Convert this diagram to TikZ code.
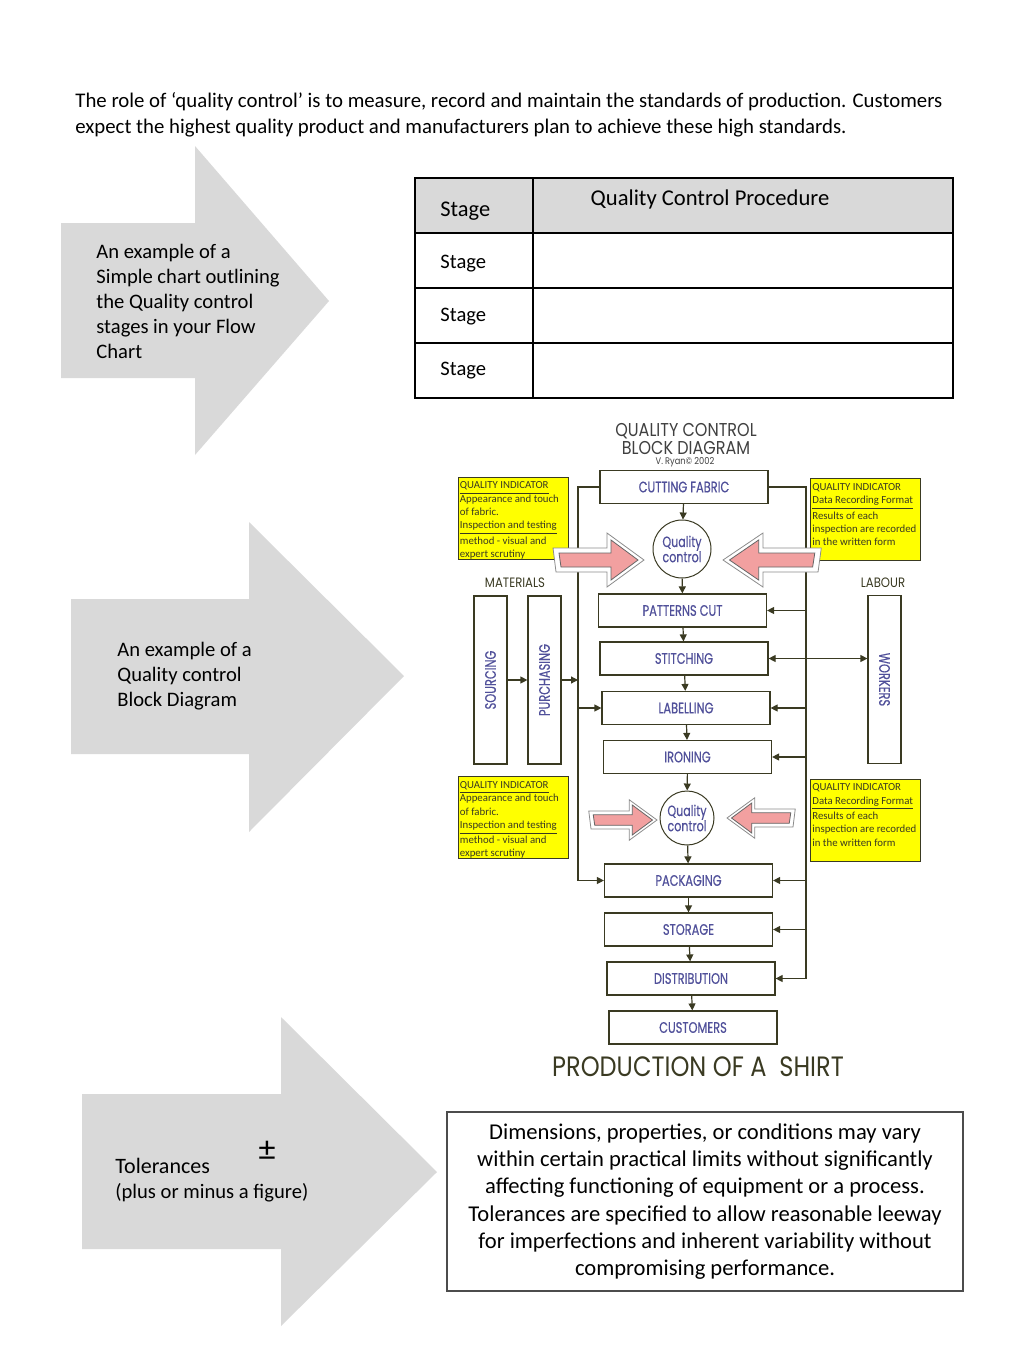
\documentclass[tikz,border=0pt]{standalone}
\usepackage{fontspec}
\setmainfont{Carlito}
\newfontfamily\blockfont{Poppins}[FakeStretch=0.75, FakeBold=0.5]
\newfontfamily\titlefont{Poppins}[FakeStretch=0.86]
\usetikzlibrary{arrows.meta}

\definecolor{arrowgrey}{HTML}{D9D9D9}
\definecolor{labelblue}{HTML}{50509A}
\definecolor{inkolive}{HTML}{3A3A22}
\definecolor{noteyellow}{HTML}{FFFF00}
\definecolor{arrowpink}{HTML}{F2A0A0}

\tikzset{
  pics/pinkarrow/.style={code={
    \draw[draw=black!45, fill=white, line width=0.4pt]
      (0,0) -- (-37,-27) -- (-37,-12) -- (-91,-12) -- (-88,12) -- (-37,12) -- (-37,27) -- cycle;
    \draw[draw=black!60, fill=arrowpink, line width=0.4pt]
      (-6,0) -- (-33,-20) -- (-33,-7) -- (-85,-7) -- (-83,7) -- (-33,7) -- (-33,20) -- cycle;
  }}
}

\begin{document}
\begin{tikzpicture}[x=0.5pt, y=-0.5pt,
    bigarrow/.style={fill=arrowgrey, draw=none},
    slidetext/.style={anchor=base west, align=left, inner sep=0pt,
      font=\fontsize{10.3}{12.5}\selectfont},
    stage/.style={draw=inkolive, line width=0.6pt, fill=white, inner sep=0pt,
      minimum width=84pt, minimum height=16.5pt, text=labelblue,
      font=\blockfont\fontsize{7.6}{8}\selectfont},
    qcircle/.style={circle, draw=inkolive, line width=0.5pt, fill=white, inner sep=0pt,
      align=center, text=labelblue, font=\blockfont\fontsize{7.4}{7.6}\selectfont},
    note/.style={draw=inkolive, fill=noteyellow, line width=0.5pt,
      minimum width=55pt, minimum height=41pt, inner sep=0pt},
    notetext/.style={anchor=north west, align=left, inner sep=0pt,
      font=\fontsize{5.4}{6.65}\selectfont, text=inkolive},
    caption/.style={text=inkolive, inner sep=0pt, font=\titlefont\fontsize{6.8}{8}\selectfont},
    link/.style={draw=inkolive, line width=0.6pt},
    feed/.style={link, -{Triangle[length=3.5pt,width=3.5pt]}},
    twoway/.style={link, {Triangle[length=3.5pt,width=3.5pt]}-{Triangle[length=3.5pt,width=3.5pt]}}]
  \useasboundingbox (0,0) rectangle (1024,1365);

  % intro text (base = last line)
  \node[slidetext, font=\fontsize{10.4}{13}\selectfont] (intro) at (75,133)
    {The role of ‘quality control’ is to measure, record and maintain the standards of production. Customers\\
     expect the highest quality product and manufacturers plan to achieve these high standards.};

  % grey arrows on the left
  \fill[bigarrow] (61,223) -- (195,223) -- (195,146) -- (329,301) -- (195,455) -- (195,378) -- (61,378) -- cycle;
  \fill[bigarrow] (71,599) -- (249,599) -- (249,522) -- (404,676) -- (249,832) -- (249,754) -- (71,754) -- cycle;
  \fill[bigarrow] (82,1094) -- (281,1094) -- (281,1017) -- (437,1172) -- (281,1326) -- (281,1249) -- (82,1249) -- cycle;

  \node[slidetext] (flowtxt) at (96,358)
    {An example of a\\Simple chart outlining\\the Quality control\\stages in your Flow\\Chart};
  \node[slidetext] (blocktxt) at (117,706)
    {An example of a\\Quality control\\Block Diagram};
  \node[slidetext, font=\fontsize{11}{13}\selectfont] (toltxt) at (115,1173) {Tolerances};
  \node[slidetext] (tolsub) at (115,1198) {(plus or minus a figure)};
  \node[inner sep=0pt, anchor=base, font=\fontsize{17}{19}\selectfont] (pm) at (267,1160) {±};

  % stage table
  \fill[arrowgrey] (415,178) rectangle (953,233);
  \draw[line width=1pt] (415,178) rectangle (953,398);
  \draw[line width=1pt] (415,233) -- (953,233) (415,288) -- (953,288) (415,343) -- (953,343) (533,178) -- (533,398);
  \node[slidetext, font=\fontsize{11.2}{13}\selectfont] (stagehead) at (440,216) {Stage};
  \node[inner sep=0pt, anchor=base, font=\fontsize{11.3}{13}\selectfont] (qchead) at (710,205) {Quality Control Procedure};
  \node[slidetext] (stageA) at (440,268) {Stage};
  \node[slidetext] (stageB) at (440,321) {Stage};
  \node[slidetext] (stageC) at (440,375) {Stage};

  % block diagram
  \node[inner sep=0pt, text=black!75, font=\titlefont\fontsize{9.3}{9.3}\selectfont] (titleA) at (686,431) {QUALITY CONTROL};
  \node[inner sep=0pt, text=black!75, font=\titlefont\fontsize{9.3}{9.3}\selectfont] (titleB) at (686,448) {BLOCK DIAGRAM};
  \node[inner sep=0pt, text=black!75, font=\titlefont\fontsize{4.8}{5}\selectfont] (author) at (685,462) {V. Ryan© 2002};
  \node[caption] (materials) at (515,583) {MATERIALS};
  \node[caption] (labour) at (883,583) {LABOUR};

  \node[note] (noteL1) at (513,518) {};
  \node[note] (noteR1) at (865.5,519.5) {};
  \node[note] (noteL2) at (513,817.5) {};
  \node[note] (noteR2) at (865.5,820) {};
  \node[notetext] (noteL1txt) at ([xshift=1pt,yshift=-2.5pt]noteL1.north west)
    {\underline{QUALITY INDICATOR}\\Appearance and touch\\of fabric.\\\underline{Inspection and testing}\\method - visual and\\expert scrutiny};
  \node[notetext] (noteR1txt) at ([xshift=1pt,yshift=-2.5pt]noteR1.north west)
    {QUALITY INDICATOR\\\underline{Data Recording Format}\\Results of each\\inspection are recorded\\in the written form};
  \node[notetext] (noteL2txt) at ([xshift=1pt,yshift=-2.5pt]noteL2.north west)
    {\underline{QUALITY INDICATOR}\\Appearance and touch\\of fabric.\\\underline{Inspection and testing}\\method - visual and\\expert scrutiny};
  \node[notetext] (noteR2txt) at ([xshift=1pt,yshift=-2.5pt]noteR2.north west)
    {QUALITY INDICATOR\\\underline{Data Recording Format}\\Results of each\\inspection are recorded\\in the written form};

  \node[stage] (cut) at (684,487) {CUTTING FABRIC};
  \node[qcircle, minimum size=29pt] (qc1) at (682,549) {Quality\\control};
  \node[stage] (patt) at (682.5,610.5) {PATTERNS CUT};
  \node[stage] (stitch) at (684,658.5) {STITCHING};
  \node[stage] (lab) at (686,708) {LABELLING};
  \node[stage] (iron) at (687.5,757) {IRONING};
  \node[qcircle, minimum size=27pt] (qc2) at (687,818) {Quality\\control};
  \node[stage] (pack) at (688.5,880.5) {PACKAGING};
  \node[stage] (store) at (688.5,929.5) {STORAGE};
  \node[stage] (dist) at (691,978.5) {DISTRIBUTION};
  \node[stage] (cust) at (693,1027.5) {CUSTOMERS};
  \node[stage, rotate=90] (src) at (490.5,680) {SOURCING};
  \node[stage, rotate=90] (purch) at (544.5,680) {PURCHASING};
  \node[stage, rotate=-90] (workers) at (884.5,679.5) {WORKERS};
  \node[inner sep=0pt, text=inkolive, font=\titlefont\fontsize{14}{16}\selectfont] (shirt) at (698,1067) {PRODUCTION OF A\ \ SHIRT};

  \coordinate (lx) at (578,0);
  \coordinate (rx) at (806,0);

  % main flow
  \draw[feed] (cut) -- (qc1);
  \draw[feed] (qc1) -- (patt);
  \draw[feed] (patt) -- (stitch);
  \draw[feed] (stitch) -- (lab);
  \draw[feed] (lab) -- (iron);
  \draw[feed] (iron) -- (qc2);
  \draw[feed] (qc2) -- (pack);
  \draw[feed] (pack) -- (store);
  \draw[feed] (store) -- (dist);
  \draw[feed] (dist) -- (cust);

  % materials side
  \draw[link] (cut.west) -| (pack.west -| lx);
  \draw[feed] (pack.west -| lx) -- (pack.west);
  \draw[feed] (lab.west -| lx) -- (lab.west);
  \draw[feed] (src) -- (purch);
  \draw[feed] (purch) -- (purch -| lx);

  % labour side
  \draw[link] (cut.east) -| (dist.east -| rx);
  \draw[feed] (patt.east -| rx) -- (patt.east);
  \draw[feed] (lab.east -| rx) -- (lab.east);
  \draw[feed] (iron.east -| rx) -- (iron.east);
  \draw[feed] (pack.east -| rx) -- (pack.east);
  \draw[feed] (store.east -| rx) -- (store.east);
  \draw[feed] (dist.east -| rx) -- (dist.east);
  \draw[twoway] (stitch.east) -- (stitch.east -| workers.south);

  % pink arrows into quality control
  \pic at (644,560) {pinkarrow};
  \pic[xscale=-1.08, yscale=1] at (723,560) {pinkarrow};
  \pic[scale=0.75] at (657,820) {pinkarrow};
  \pic[xscale=-0.75, yscale=0.75] at (727,818) {pinkarrow};

  % tolerance box
  \node[draw=black!70, line width=0.6pt, minimum width=258pt, minimum height=89.5pt, inner sep=0pt,
    align=center, font=\fontsize{11.3}{13.6}\selectfont] (tolbox) at (705,1201.5)
    {Dimensions, properties, or conditions may vary\\
     within certain practical limits without significantly\\
     affecting functioning of equipment or a process.\\
     Tolerances are specified to allow reasonable leeway\\
     for imperfections and inherent variability without\\
     compromising performance.};
\end{tikzpicture}
\end{document}
